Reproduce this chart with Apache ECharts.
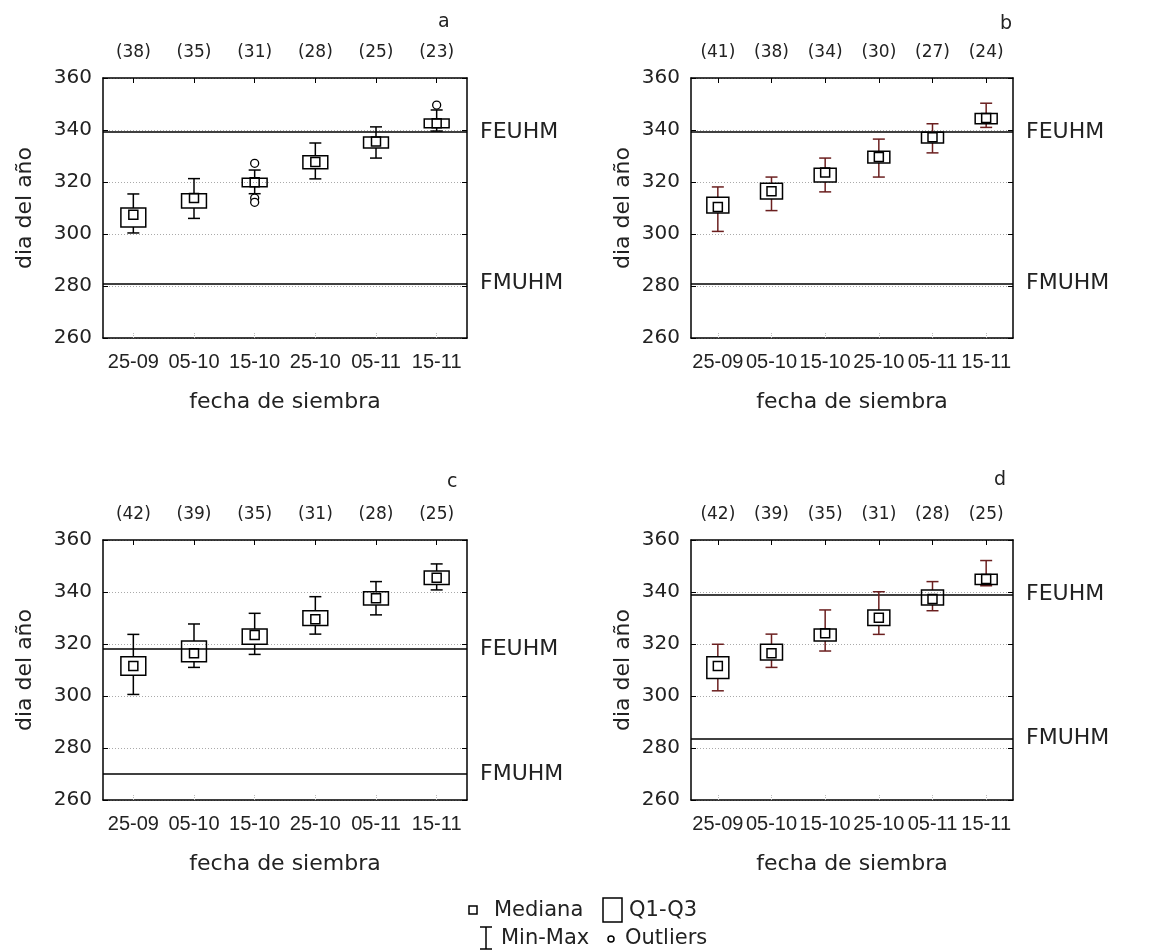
<!DOCTYPE html>
<html>
<head>
<meta charset="utf-8">
<script src="https://cdn.jsdelivr.net/npm/echarts@6/dist/echarts.min.js"></script>
<style>
  html, body { margin: 0; padding: 0; background: #fff; }
  #chart { width: 1164px; height: 951px; }
</style>
</head>
<body>
<div id="chart"></div>
<script>
// fechas de siembra
const categories = ['25-09', '05-10', '15-10', '25-10', '05-11', '15-11'];

// n por fecha (eje superior)
const countsA = [38, 35, 31, 28, 25, 23];
const countsB = [41, 38, 34, 30, 27, 24];
const countsC = [42, 39, 35, 31, 28, 25];
const countsD = [42, 39, 35, 31, 28, 25];

// [min, Q1, mediana, Q3, max]
const boxesA = [
  [300.4, 302.7, 307.4, 310.0, 315.4],
  [306.0, 310.0, 313.8, 315.5, 321.3],
  [315.5, 318.2, 319.9, 321.4, 324.6],
  [321.2, 325.1, 327.7, 330.1, 335.0],
  [329.2, 333.1, 335.6, 337.3, 341.2],
  [339.6, 340.9, 342.6, 344.2, 347.7]
];
const boxesB = [
  [301.0, 308.1, 310.4, 314.1, 318.1],
  [309.0, 313.5, 316.4, 319.5, 321.9],
  [316.2, 320.0, 323.7, 325.3, 329.2],
  [321.9, 327.3, 329.6, 331.8, 336.5],
  [331.2, 335.0, 337.2, 339.1, 342.4],
  [341.0, 342.4, 344.6, 346.3, 350.3]
];
const boxesC = [
  [300.6, 308.0, 311.5, 315.1, 323.7],
  [311.0, 313.2, 316.4, 321.2, 327.7],
  [316.0, 319.9, 323.5, 325.8, 331.8],
  [323.8, 327.1, 329.5, 332.8, 338.2],
  [331.2, 335.0, 337.6, 340.1, 344.0],
  [340.8, 342.9, 345.5, 348.1, 350.8]
];
const boxesD = [
  [302.0, 306.7, 311.5, 315.1, 319.9],
  [311.0, 313.8, 316.4, 319.9, 323.8],
  [317.3, 321.2, 324.1, 325.8, 333.1],
  [323.7, 327.1, 330.1, 333.1, 340.1],
  [332.8, 335.0, 337.3, 340.8, 344.0],
  [342.4, 342.9, 345.0, 346.8, 352.1]
];

// outliers [indice fecha, valor]
const outliersA = [[2, 327.2], [2, 313.8], [2, 312.2], [5, 349.6]];

// lineas de referencia [FEUHM, FMUHM]
const refA = [339.2, 281.0];
const refB = [339.2, 280.9];
const refC = [318.1, 270.0];
const refD = [339.1, 283.7];

const yTicks = [260, 280, 300, 320, 340, 360];

const FONT = 'DejaVu Sans';
const TXT = '#222';

const panels = [
  {letter: 'a', counts: countsA, boxes: boxesA, outliers: outliersA, ref: refA,
   grid: {left: 103, top: 78, width: 364, height: 260}, whisker: '#000', nameGap: 67, letterPos: [438, 8]},
  {letter: 'b', counts: countsB, boxes: boxesB, outliers: [], ref: refB,
   grid: {left: 691, top: 78, width: 322, height: 260}, whisker: '#6b1f1f', nameGap: 57, letterPos: [1000, 10]},
  {letter: 'c', counts: countsC, boxes: boxesC, outliers: [], ref: refC,
   grid: {left: 103, top: 540, width: 364, height: 260}, whisker: '#000', nameGap: 67, letterPos: [447, 468]},
  {letter: 'd', counts: countsD, boxes: boxesD, outliers: [], ref: refD,
   grid: {left: 691, top: 540, width: 322, height: 260}, whisker: '#6b1f1f', nameGap: 57, letterPos: [994, 466]}
];

function renderBox(params, api) {
  const x = api.value(0);
  const q1 = api.coord([x, api.value(2)]);
  const q3 = api.coord([x, api.value(4)]);
  const w = api.size([1, 0])[0] * 0.41;
  return {
    type: 'rect',
    shape: {x: q1[0] - w / 2, y: q3[1], width: w, height: q1[1] - q3[1]},
    style: {fill: 'rgba(255,255,255,0)', stroke: '#000', lineWidth: 1.5}
  };
}

function renderWhisker(params, api) {
  const x = api.value(0);
  const lo = api.coord([x, api.value(1)]);
  const q1 = api.coord([x, api.value(2)]);
  const q3 = api.coord([x, api.value(4)]);
  const hi = api.coord([x, api.value(5)]);
  const cx = lo[0];
  const cap = 6;
  const style = {stroke: api.visual('color'), lineWidth: 1.5};
  return {
    type: 'group',
    children: [
      {type: 'line', shape: {x1: cx, y1: hi[1], x2: cx, y2: q3[1]}, style},
      {type: 'line', shape: {x1: cx, y1: q1[1], x2: cx, y2: lo[1]}, style},
      {type: 'line', shape: {x1: cx - cap, y1: hi[1], x2: cx + cap, y2: hi[1]}, style},
      {type: 'line', shape: {x1: cx - cap, y1: lo[1], x2: cx + cap, y2: lo[1]}, style}
    ]
  };
}

let option = {
  animation: false,
  backgroundColor: '#fff',
  textStyle: {fontFamily: FONT, color: TXT},
  title: [],
  grid: [],
  xAxis: [],
  yAxis: [],
  series: [],
  graphic: []
};

panels.forEach((p, i) => {
  option.grid.push(Object.assign({show: false}, p.grid));

  option.title.push({
    text: p.letter,
    left: p.letterPos[0] - 5,
    top: p.letterPos[1],
    textStyle: {fontFamily: FONT, fontSize: 19, fontWeight: 'normal', color: TXT}
  });

  // eje inferior: fechas
  option.xAxis.push({
    type: 'category',
    gridIndex: i,
    data: categories,
    position: 'bottom',
    name: 'fecha de siembra',
    nameLocation: 'middle',
    nameGap: 53,
    nameTextStyle: {fontFamily: FONT, fontSize: 22, color: TXT},
    axisLine: {show: true, onZero: false, lineStyle: {color: '#000', width: 1.5}},
    axisTick: {show: true, inside: true, alignWithLabel: true, length: 5,
               lineStyle: {color: '#bbb', type: 'dotted'}},
    axisLabel: {fontFamily: 'Liberation Sans', fontSize: 20, color: TXT, margin: 14, interval: 0},
    splitLine: {show: false}
  });
  // eje superior: n
  option.xAxis.push({
    type: 'category',
    gridIndex: i,
    data: p.counts.map((n) => '(' + n + ')'),
    position: 'top',
    axisLine: {show: true, onZero: false, lineStyle: {color: '#000', width: 1.5}},
    axisTick: {show: true, inside: true, alignWithLabel: true, length: 5,
               lineStyle: {color: '#000'}},
    axisLabel: {fontFamily: FONT, fontSize: 17, color: TXT, margin: 17, interval: 0},
    splitLine: {show: false}
  });

  option.yAxis.push({
    type: 'value',
    gridIndex: i,
    min: yTicks[0],
    max: yTicks[yTicks.length - 1],
    interval: 20,
    position: 'left',
    name: 'dia del año',
    nameLocation: 'middle',
    nameGap: p.nameGap,
    nameTextStyle: {fontFamily: FONT, fontSize: 22, color: TXT},
    axisLine: {show: true, onZero: false, lineStyle: {color: '#000', width: 1.5}},
    axisTick: {show: true, inside: true, length: 5, lineStyle: {color: '#000'}},
    axisLabel: {fontFamily: FONT, fontSize: 20, color: TXT, margin: 11},
    splitLine: {show: true, lineStyle: {color: '#aaa', type: [1, 2], width: 1}}
  });
  option.yAxis.push({
    type: 'value',
    gridIndex: i,
    min: yTicks[0],
    max: yTicks[yTicks.length - 1],
    interval: 20,
    position: 'right',
    axisLine: {show: true, onZero: false, lineStyle: {color: '#000', width: 1.5}},
    axisTick: {show: true, inside: true, length: 5, lineStyle: {color: '#000'}},
    axisLabel: {show: false},
    splitLine: {show: false}
  });

  const xi = i * 2;
  const yi = i * 2;
  const rows = p.boxes.map((b, k) => [k].concat(b));

  option.series.push({
    name: 'Min-Max',
    type: 'custom',
    xAxisIndex: xi,
    yAxisIndex: yi,
    itemStyle: {color: p.whisker},
    renderItem: renderWhisker,
    encode: {x: 0, y: [1, 2, 3, 4, 5]},
    data: rows,
    silent: true,
    z: 3
  });
  option.series.push({
    name: 'Q1-Q3',
    type: 'custom',
    xAxisIndex: xi,
    yAxisIndex: yi,
    renderItem: renderBox,
    encode: {x: 0, y: [1, 2, 3, 4, 5]},
    data: rows,
    silent: true,
    z: 4
  });
  option.series.push({
    name: 'Mediana',
    type: 'scatter',
    xAxisIndex: xi,
    yAxisIndex: yi,
    symbol: 'rect',
    symbolSize: 9,
    itemStyle: {color: 'rgba(255,255,255,0)', borderColor: '#000', borderWidth: 1.5, opacity: 1},
    data: p.boxes.map((b, k) => [k, b[2]]),
    silent: true,
    z: 5,
    markLine: {
      silent: true,
      symbol: 'none',
      lineStyle: {color: '#000', width: 1.5, type: 'solid'},
      label: {show: true, position: 'end', formatter: '{b}', distance: 13,
              fontFamily: FONT, fontSize: 22, color: TXT},
      data: [
        {name: 'FEUHM', yAxis: p.ref[0]},
        {name: 'FMUHM', yAxis: p.ref[1]}
      ],
      z: 2
    }
  });
  option.series.push({
    name: 'Outliers',
    type: 'scatter',
    xAxisIndex: xi,
    yAxisIndex: yi,
    symbol: 'circle',
    symbolSize: 8,
    itemStyle: {color: '#fff', borderColor: '#000', borderWidth: 1.3, opacity: 1},
    data: p.outliers,
    silent: true,
    z: 5
  });
});

// leyenda inferior
const legFont = {fontFamily: FONT, fontSize: 21, fill: TXT, verticalAlign: 'middle'};
const legStroke = {fill: 'none', stroke: '#000', lineWidth: 1.5};
option.graphic = [
  {type: 'rect', shape: {x: 469, y: 906, width: 8, height: 8}, style: legStroke},
  {type: 'text', x: 494, y: 911, style: Object.assign({text: 'Mediana'}, legFont)},
  {type: 'rect', shape: {x: 603, y: 898, width: 19, height: 24}, style: legStroke},
  {type: 'text', x: 629, y: 911, style: Object.assign({text: 'Q1-Q3'}, legFont)},
  {type: 'line', shape: {x1: 480, y1: 927, x2: 492, y2: 927}, style: legStroke},
  {type: 'line', shape: {x1: 486, y1: 927, x2: 486, y2: 949}, style: legStroke},
  {type: 'line', shape: {x1: 480, y1: 949, x2: 492, y2: 949}, style: legStroke},
  {type: 'text', x: 501, y: 939, style: Object.assign({text: 'Min-Max'}, legFont)},
  {type: 'circle', shape: {cx: 611, cy: 939, r: 3}, style: legStroke},
  {type: 'text', x: 625, y: 939, style: Object.assign({text: 'Outliers'}, legFont)}
];

let chart = echarts.init(document.getElementById('chart'));
chart.setOption(option);
</script>
</body>
</html>
